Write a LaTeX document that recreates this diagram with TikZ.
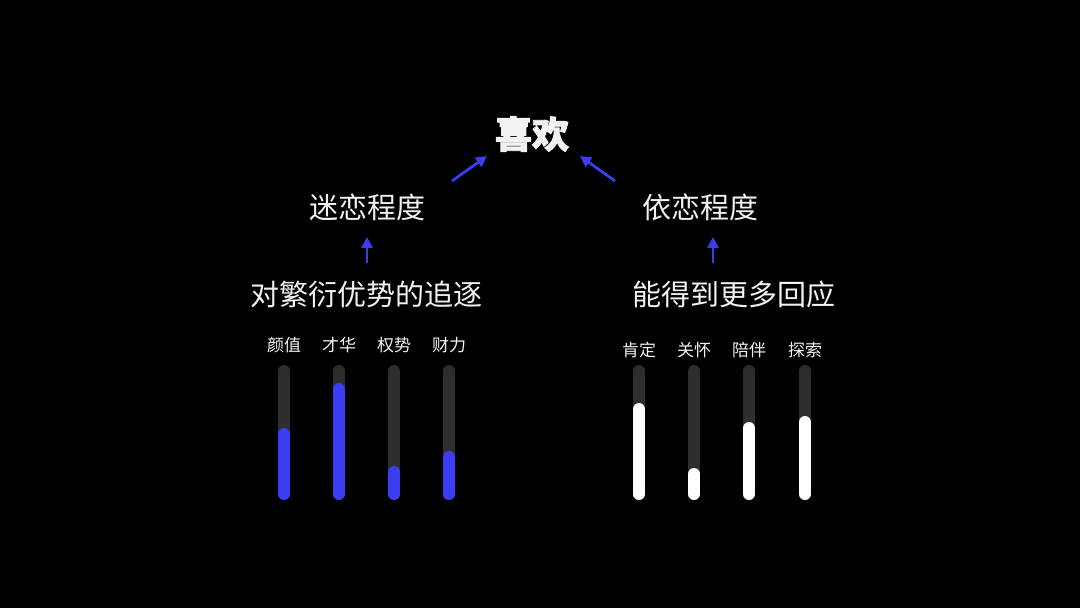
\documentclass[tikz,border=0pt]{standalone}
\usepackage{fontspec}
\newfontfamily\cjk{Noto Sans CJK SC}
\newfontfamily\cjkb{Noto Sans CJK SC}[FakeBold=2.5]
\usetikzlibrary{arrows.meta}
\definecolor{barblue}{HTML}{3C3CF2}
\definecolor{track}{HTML}{2E2E2E}
\definecolor{txt}{HTML}{F2F2F2}
\tikzset{
  title/.style={text=txt,font=\cjkb\bfseries\fontsize{37}{37}\selectfont,inner sep=0},
  mid/.style={text=txt,font=\cjk\fontsize{29}{29}\selectfont,inner sep=0},
  lab/.style={text=txt,font=\cjk\fontsize{17}{17}\selectfont,inner sep=0},
  arr/.style={draw=barblue,line width=2.8pt,-{Triangle[length=11pt,width=11pt]}},
  trk/.style={draw=track,line width=12pt,line cap=round},
  bluebar/.style={draw=barblue,line width=12pt,line cap=round},
  whitebar/.style={draw=white,line width=12pt,line cap=round},
}
\begin{document}
\begin{tikzpicture}[x=1pt,y=-1pt]
\fill[black] (0,0) rectangle (1080,608);
\useasboundingbox (0,0) rectangle (1080,608);
\node[title] (top) at (532,134) {喜欢};
\node[mid] (mlcd) at (367,207) {迷恋程度};
\node[mid] (ylcd) at (700,207) {依恋程度};
\node[mid] (fy) at (366,294) {对繁衍优势的追逐};
\node[mid] (hy) at (734,294) {能得到更多回应};
% arrows
\coordinate (la0) at (452,181); \coordinate (la1) at (487,156);
\coordinate (ra0) at (615,181); \coordinate (ra1) at (580,156);
\coordinate (lu0) at (367,263); \coordinate (lu1) at (367,237);
\coordinate (ru0) at (713,263); \coordinate (ru1) at (713,237);
\draw[arr] (la0) -- (la1);
\draw[arr] (ra0) -- (ra1);
\draw[arr] (lu0) -- (lu1);
\draw[arr] (ru0) -- (ru1);
% left labels and bars
\foreach \x/\t/\f [count=\i] in {284/颜值/428, 339/才华/383, 394/权势/466, 449/财力/451}{
  \node[lab] (ll\i) at (\x,345) {\t};
  \coordinate (lt\i) at (\x,371); \coordinate (lb\i) at (\x,494);
  \coordinate (lf\i) at (\x,\f+6);
  \draw[trk] (lt\i) -- (lb\i);
  \draw[bluebar] (lf\i) -- (lb\i);
}
\foreach \x/\t/\f [count=\i] in {639/肯定/403, 694/关怀/468, 749/陪伴/422, 805/探索/416}{
  \node[lab] (rl\i) at (\x,350) {\t};
  \coordinate (rt\i) at (\x,371); \coordinate (rb\i) at (\x,494);
  \coordinate (rf\i) at (\x,\f+6);
  \draw[trk] (rt\i) -- (rb\i);
  \draw[whitebar] (rf\i) -- (rb\i);
}
\end{tikzpicture}
\end{document}
